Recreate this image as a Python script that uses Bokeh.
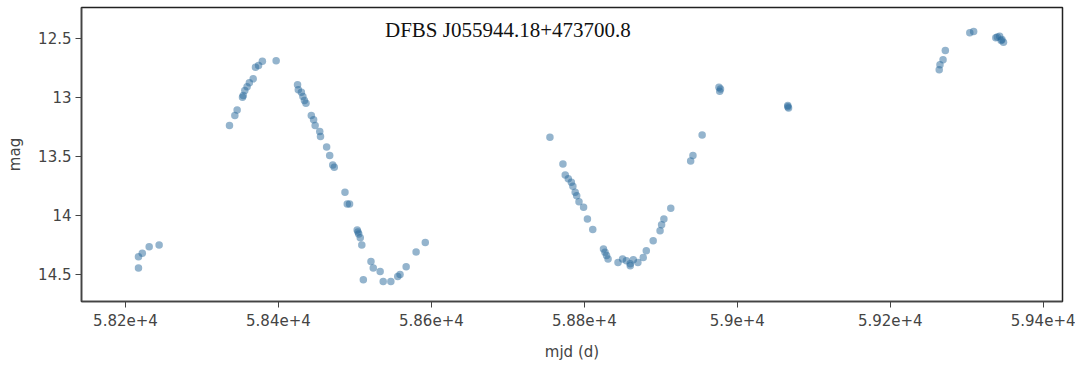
from bokeh.plotting import figure
from bokeh.models import Range1d, FixedTicker, Label, ColumnDataSource
from bokeh.embed import file_html
from bokeh.resources import INLINE

title_text = "DFBS J055944.18+473700.8"
x_label = "mjd (d)"
y_label = "mag"

x_ticks = [58200, 58400, 58600, 58800, 59000, 59200, 59400]
x_tick_labels = ["5.82e+4", "5.84e+4", "5.86e+4", "5.88e+4", "5.9e+4", "5.92e+4", "5.94e+4"]
y_ticks = [12.5, 13.0, 13.5, 14.0, 14.5]
y_tick_labels = ["12.5", "13", "13.5", "14", "14.5"]

mjd = [58217, 58217, 58222, 58231, 58244,
       58336, 58343, 58346, 58353, 58354, 58356, 58359, 58362, 58367, 58370, 58374, 58379, 58397,
       58425, 58426, 58430, 58432, 58434, 58436, 58443, 58446, 58448, 58454, 58455, 58463, 58467,
       58471, 58473, 58487, 58490, 58493, 58503, 58504, 58505, 58507, 58509, 58511, 58521, 58524,
       58533, 58537, 58547, 58556, 58559, 58567, 58580, 58592,
       58755, 58772, 58775, 58779, 58783, 58785, 58788, 58790, 58793, 58799, 58804, 58811,
       58825, 58827, 58829, 58831, 58844, 58850, 58855, 58860, 58860, 58864, 58870, 58877,
       58881, 58890, 58899, 58901, 58904, 58913, 58939, 58942, 58954,
       58976, 58977, 58978, 59066, 59067, 59066,
       59264, 59265, 59269, 59272, 59304, 59309, 59338, 59340, 59343, 59345, 59348, 59346]
mag = [14.446, 14.35, 14.32, 14.265, 14.25,
       13.24, 13.155, 13.107, 13.0, 12.986, 12.943, 12.91, 12.878, 12.844, 12.746, 12.73, 12.695, 12.69,
       12.895, 12.937, 12.957, 12.994, 13.028, 13.05, 13.155, 13.19, 13.24, 13.29, 13.333, 13.42, 13.494,
       13.573, 13.593, 13.805, 13.903, 13.903, 14.124, 14.14, 14.158, 14.19, 14.25, 14.545, 14.39, 14.446,
       14.475, 14.56, 14.56, 14.517, 14.5, 14.435, 14.31, 14.23,
       13.339, 13.565, 13.658, 13.69, 13.72, 13.754, 13.805, 13.833, 13.884, 13.932, 14.03, 14.12,
       14.285, 14.313, 14.34, 14.37, 14.398, 14.37, 14.384, 14.41, 14.427, 14.376, 14.398, 14.356,
       14.30, 14.215, 14.13, 14.08, 14.03, 13.94, 13.54, 13.494, 13.32,
       12.915, 12.95, 12.93, 13.07, 13.09, 13.08,
       12.768, 12.725, 12.683, 12.604, 12.454, 12.443, 12.497, 12.49, 12.483, 12.52, 12.534, 12.51]

src = ColumnDataSource(dict(mjd=mjd, mag=mag))

p = figure(width=1075, height=365, output_backend="svg", toolbar_location=None,
           x_range=Range1d(58142.5, 59425.2), y_range=Range1d(14.729, 12.24),
           min_border_left=81, min_border_right=13, min_border_top=7, min_border_bottom=64)

p.scatter("mjd", "mag", source=src, size=7.5, fill_color="#2a6a9c", fill_alpha=0.5,
          line_color=None)

p.xgrid.visible = False
p.ygrid.visible = False
p.outline_line_color = "#222222"
p.outline_line_width = 1.5
p.background_fill_color = "white"
p.border_fill_color = "white"

for ax in (p.xaxis[0], p.yaxis[0]):
    ax.axis_line_color = "#444444"
    ax.axis_line_width = 1.5
    ax.major_tick_line_color = "#444444"
    ax.major_tick_out = 6
    ax.major_tick_in = 0
    ax.minor_tick_line_color = None
    ax.major_label_text_font = "DejaVu Sans"
    ax.major_label_text_font_size = "15px"
    ax.major_label_text_color = "#444444"
    ax.axis_label_text_font = "DejaVu Sans"
    ax.axis_label_text_font_size = "15px"
    ax.axis_label_text_color = "#444444"
    ax.axis_label_text_font_style = "normal"

p.xaxis[0].ticker = FixedTicker(ticks=x_ticks)
p.xaxis[0].major_label_overrides = dict(zip(x_ticks, x_tick_labels))
p.xaxis[0].axis_label = x_label
p.xaxis[0].major_label_standoff = 6
p.xaxis[0].axis_label_standoff = 14

p.yaxis[0].ticker = FixedTicker(ticks=y_ticks)
p.yaxis[0].major_label_overrides = dict(zip(y_ticks, y_tick_labels))
p.yaxis[0].axis_label = y_label
p.yaxis[0].major_label_standoff = 4
p.yaxis[0].axis_label_standoff = 11

p.add_layout(Label(x=58700, y=12.43, text=title_text, text_align="center",
                   text_baseline="middle", text_font="Liberation Serif",
                   text_font_size="21px", text_color="#111111"))

open("out.html", "w").write(file_html(p, INLINE))
